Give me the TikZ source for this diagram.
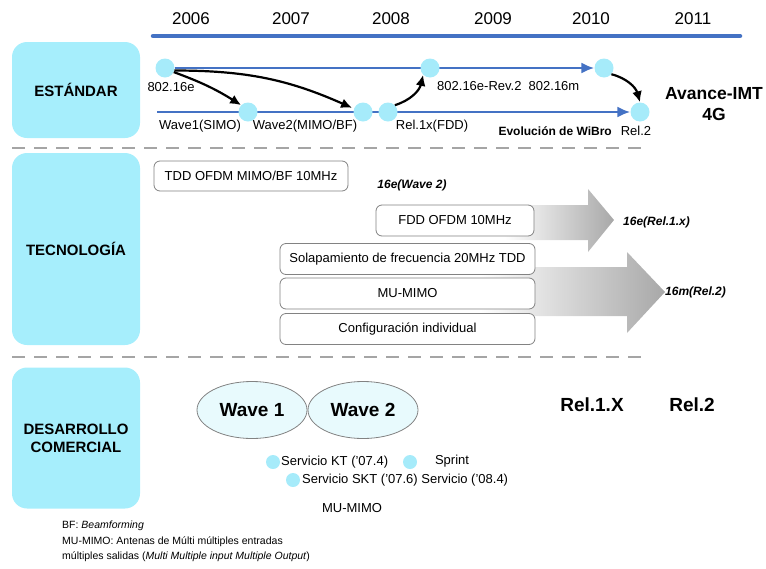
\documentclass[tikz,border=0pt]{standalone}
\usepackage{fontspec}
\setmainfont{Liberation Sans}
\usetikzlibrary{arrows.meta,shapes.geometric}

\definecolor{labcyan}{RGB}{166,238,252}
\definecolor{dotcyan}{RGB}{166,235,250}
\definecolor{tlblue}{RGB}{68,114,196}
\definecolor{ellfill}{RGB}{232,250,253}
\definecolor{boxgray}{RGB}{130,130,130}
\definecolor{sepgray}{RGB}{165,165,165}
\definecolor{shadegray}{RGB}{168,168,168}

\pgfdeclarelayer{back}
\pgfsetlayers{back,main}

\newcommand{\fs}[1]{\fontsize{#1}{#1}\selectfont}

\begin{document}
\begin{tikzpicture}[x=1pt,y=-1pt,
  section/.style={fill=labcyan, rounded corners=15pt, inner sep=0pt,
    align=center, font=\fs{15}\bfseries},
  year/.style={font=\fs{17}, inner sep=0pt},
  dotnode/.style={circle, fill=dotcyan, minimum size=19pt, inner sep=0pt},
  smalldot/.style={circle, fill=dotcyan, minimum size=14pt, inner sep=0pt},
  lbl/.style={font=\fs{13}, inner sep=0pt},
  bigbold/.style={font=\fs{19}\bfseries, inner sep=0pt},
  techbox/.style={draw=boxgray, line width=0.8pt, fill=white, rounded corners=6pt,
    inner sep=0pt, font=\fs{13}},
  wave/.style={ellipse, draw=boxgray, line width=0.8pt, fill=ellfill,
    minimum width=110pt, minimum height=57pt, inner sep=0pt, font=\fs{19}\bfseries},
  tagtext/.style={font=\fs{12}\bfseries\itshape, inner sep=0pt},
  blueline/.style={draw=tlblue, line width=2.2pt},
  bluearrow/.style={blueline, -{Latex[length=13pt,width=11pt]}},
  blackarrow/.style={draw=black, line width=2.2pt, -{Latex[length=11pt,width=10pt]}},
  sepline/.style={draw=sepgray, line width=1.4pt, dash pattern=on 13pt off 9pt},
  note/.style={font=\fs{10.5}, inner sep=0pt, anchor=west}
]
\useasboundingbox (0,0) rectangle (766,568);

% ---------- year scale ----------
\node[year] (y06) at (191,19) {2006};
\node[year] (y07) at (291,19) {2007};
\node[year] (y08) at (391,19) {2008};
\node[year] (y09) at (493,19) {2009};
\node[year] (y10) at (591,19) {2010};
\node[year] (y11) at (693,19) {2011};
\coordinate (axisL) at (153,36);
\coordinate (axisR) at (740,36);
\draw[draw=tlblue, line width=4.5pt, line cap=round] (axisL) -- (axisR);

% ---------- row headers ----------
\node[section, minimum width=128pt, minimum height=96pt] (hstd) at (76,90) {ESTÁNDAR};
\node[section, minimum width=128pt, minimum height=192pt] (htec) at (76,249) {TECNOLOGÍA};
\node[section, minimum width=128pt, minimum height=141pt] (hcom) at (76,438)
  {DESARROLLO\\[3pt]COMERCIAL};

% ---------- separators ----------
\coordinate (sep1L) at (12,148);
\coordinate (sep1R) at (642,148);
\coordinate (sep2L) at (12,357);
\coordinate (sep2R) at (642,357);
\draw[sepline] (sep1L) -- (sep1R);
\draw[sepline] (sep2L) -- (sep2R);

% ---------- standard milestones ----------
\node[dotnode] (e16)   at (165,68) {};
\node[dotnode] (rev2)  at (430,68) {};
\node[dotnode] (m16)   at (604,68) {};
\node[dotnode] (wv1)   at (248,112) {};
\node[dotnode] (wv2)   at (363,112) {};
\node[dotnode] (rel1x) at (388,112) {};
\node[dotnode] (rel2)  at (640,112) {};
\coordinate (wibroL) at (157,112);

\begin{pgfonlayer}{back}
  \draw[bluearrow] (e16.east) -- (m16.west);
  \draw[bluearrow] (wibroL) -- (rel2.west);
\end{pgfonlayer}

\draw[blackarrow] (e16.-25) to[bend left=6] (wv1.north west);
\draw[blackarrow, shorten >=2pt] (e16.-15) to[bend left=12] (wv2.160);
\draw[blackarrow] (rel1x.north east) to[bend right=30] (rev2.south west);
\draw[blackarrow] (m16.-40) to[bend left=30] (rel2.north);

\node[lbl] (t16e)  at (171,87) {802.16e};
\node[lbl, anchor=west] (trev) at (437,86) {802.16e-Rev.2\ \ 802.16m};
\node[lbl] (twv1)  at (200,126) {Wave1(SIMO)};
\node[lbl] (twv2)  at (305,126) {Wave2(MIMO/BF)};
\node[lbl] (trel1) at (432,126) {Rel.1x(FDD)};
\node[font=\fs{12}\bfseries, inner sep=0pt, anchor=east] (twib) at (612,131) {Evolución de WiBro};
\node[lbl] (trel2) at (636,131) {Rel.2};
\node[font=\fs{17.5}\bfseries, inner sep=0pt, align=center] (imt) at (714,104)
  {Avance-IMT\\[4pt]4G};

% ---------- technology ----------
\begin{pgfonlayer}{back}
  \shade[left color=white, right color=shadegray]
    (505,205) -- (588,205) -- (588,189) -- (614,220) -- (588,252) -- (588,240)
    -- (505,240) -- cycle;
  \shade[left color=white, right color=shadegray]
    (480,267) -- (627,267) -- (627,252) -- (665,292) -- (627,333) -- (627,316)
    -- (480,316) -- cycle;
\end{pgfonlayer}

\node[techbox, minimum width=194pt, minimum height=30pt] (tdd) at (251,176)
  {TDD OFDM MIMO/BF 10MHz};
\node[techbox, minimum width=158pt, minimum height=31pt] (fdd) at (455,220.5)
  {FDD OFDM 10MHz};
\node[techbox, minimum width=255pt, minimum height=31pt] (sol) at (407.5,259)
  {Solapamiento de frecuencia 20MHz TDD};
\node[techbox, minimum width=255pt, minimum height=31pt] (mumimo) at (407.5,293.5)
  {MU-MIMO};
\node[techbox, minimum width=255pt, minimum height=31pt] (conf) at (407.5,329)
  {Configuración individual};

\node[tagtext] (w2tag) at (412,185) {16e(Wave 2)};
\node[tagtext, anchor=west] (r1tag) at (623,222) {16e(Rel.1.x)};
\node[tagtext, anchor=west] (r2tag) at (665,292) {16m(Rel.2)};

% ---------- commercial ----------
\node[wave] (ew1) at (252,410) {Wave 1};
\node[wave] (ew2) at (363,410) {Wave 2};
\node[bigbold] (crel1) at (592,405) {Rel.1.X};
\node[bigbold] (crel2) at (692,405) {Rel.2};

\node[smalldot] (skt) at (273,462) {};
\node[smalldot] (sspr) at (410,462) {};
\node[smalldot] (ssk) at (293,480) {};
\node[lbl, anchor=west] (tkt) at (281,462) {Servicio KT (’07.4)};
\node[lbl] (tspr) at (452,461) {Sprint};
\node[lbl, anchor=west] (tsk) at (302,480) {Servicio SKT (’07.6) Servicio (’08.4)};
\node[lbl] (tmu) at (352,508) {MU-MIMO};

% ---------- notes ----------
\node[note] (n1) at (62,526) {BF: \textit{Beamforming}};
\node[note] (n2) at (62,542) {MU-MIMO: Antenas de Múlti múltiples entradas};
\node[note] (n3) at (62,557) {múltiples salidas (\textit{Multi Multiple input Multiple Output})};
\end{tikzpicture}
\end{document}
